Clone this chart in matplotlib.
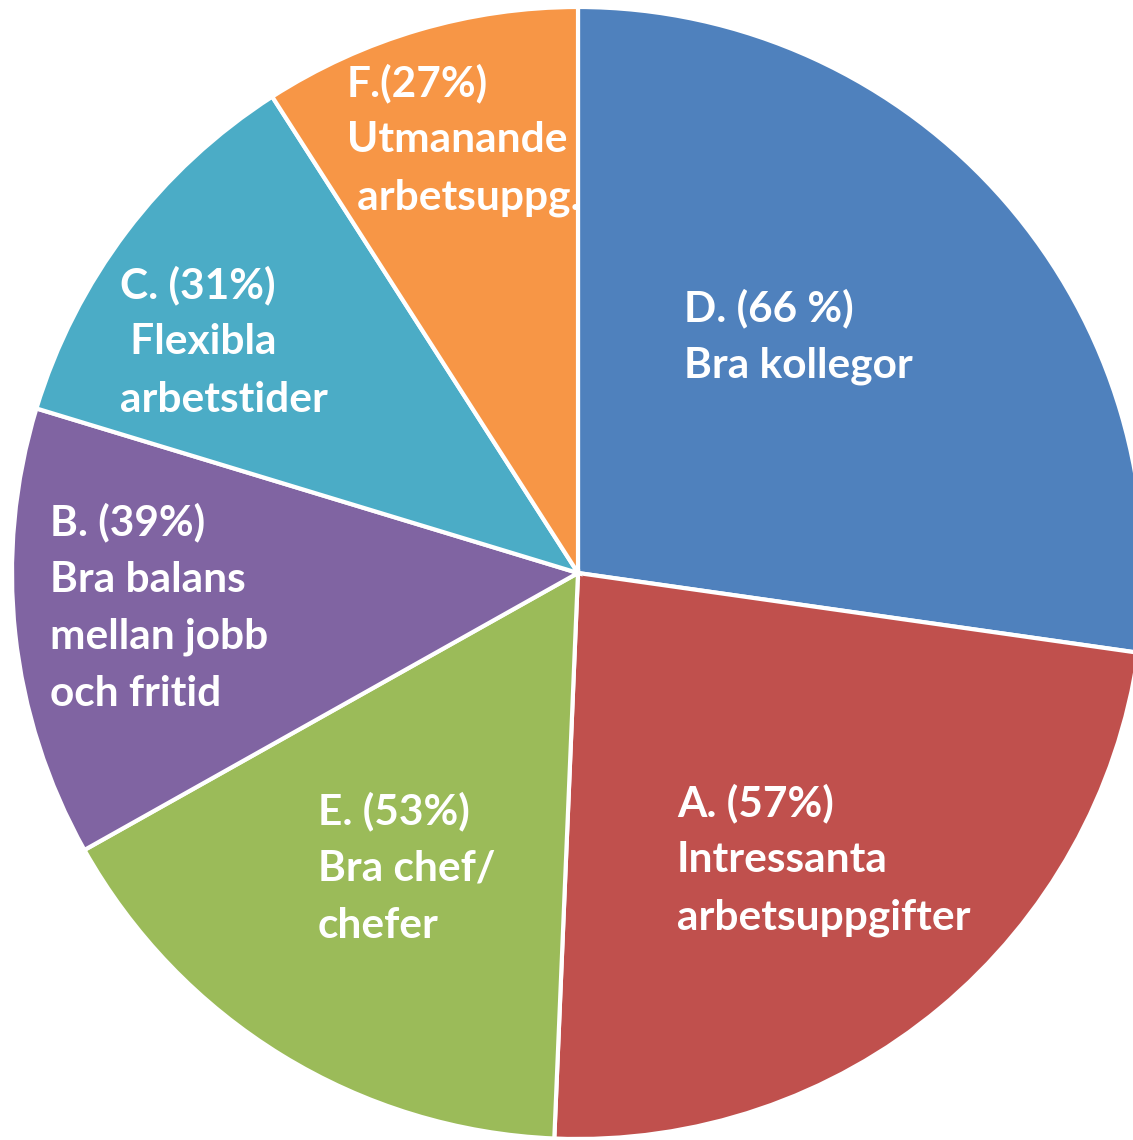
import matplotlib
matplotlib.use("Agg")
import matplotlib.pyplot as plt

# slice sizes (degrees), clockwise from 12 o'clock
categories = ["D", "A", "E", "B", "C", "F"]
slice_sizes = [98.1, 84.3, 58.3, 46.2, 40.4, 32.7]
colors = ["#4F81BD", "#C0504D", "#9BBB59", "#8064A2", "#4BACC6", "#F79646"]

label_lines = {
    "D": ["D. (66 %)", "Bra kollegor"],
    "A": ["A. (57%)", "Intressanta", "arbetsuppgifter"],
    "E": ["E. (53%)", "Bra chef/", "chefer"],
    "B": ["B. (39%)", "Bra balans", "mellan jobb", "och fritid"],
    "C": ["C. (31%)", " Flexibla", "arbetstider"],
    "F": ["F.(27%)", "Utmanande", " arbetsuppg."],
}

# label anchor (left x, first line y) in pixel coords, y from top
label_pos = {
    "D": (684, 308),
    "A": (677, 803),
    "E": (318, 811),
    "B": (50, 522),
    "C": (120, 285),
    "F": (347, 83),
}
line_step = 57.5

W, H = 1133, 1140
fig = plt.figure(figsize=(W / 100, H / 100), dpi=100)
ax = fig.add_axes([0, 0, 1, 1])

cx, cy, r = 578, H - 573, 566
ax.pie(slice_sizes, colors=colors, startangle=90, counterclock=False,
       center=(cx, cy), radius=r, frame=True,
       wedgeprops=dict(edgecolor="white", linewidth=3))
ax.set_xlim(0, W)
ax.set_ylim(0, H)
ax.set_aspect("auto")
ax.axis("off")

for cat in categories:
    x0, y0 = label_pos[cat]
    for i, line in enumerate(label_lines[cat]):
        ax.text(x0, H - (y0 + i * line_step), line, color="white",
                fontsize=30.5, fontweight="bold", family="Lato",
                ha="left", va="center")

fig.savefig("out.png", dpi=100, facecolor="white")
